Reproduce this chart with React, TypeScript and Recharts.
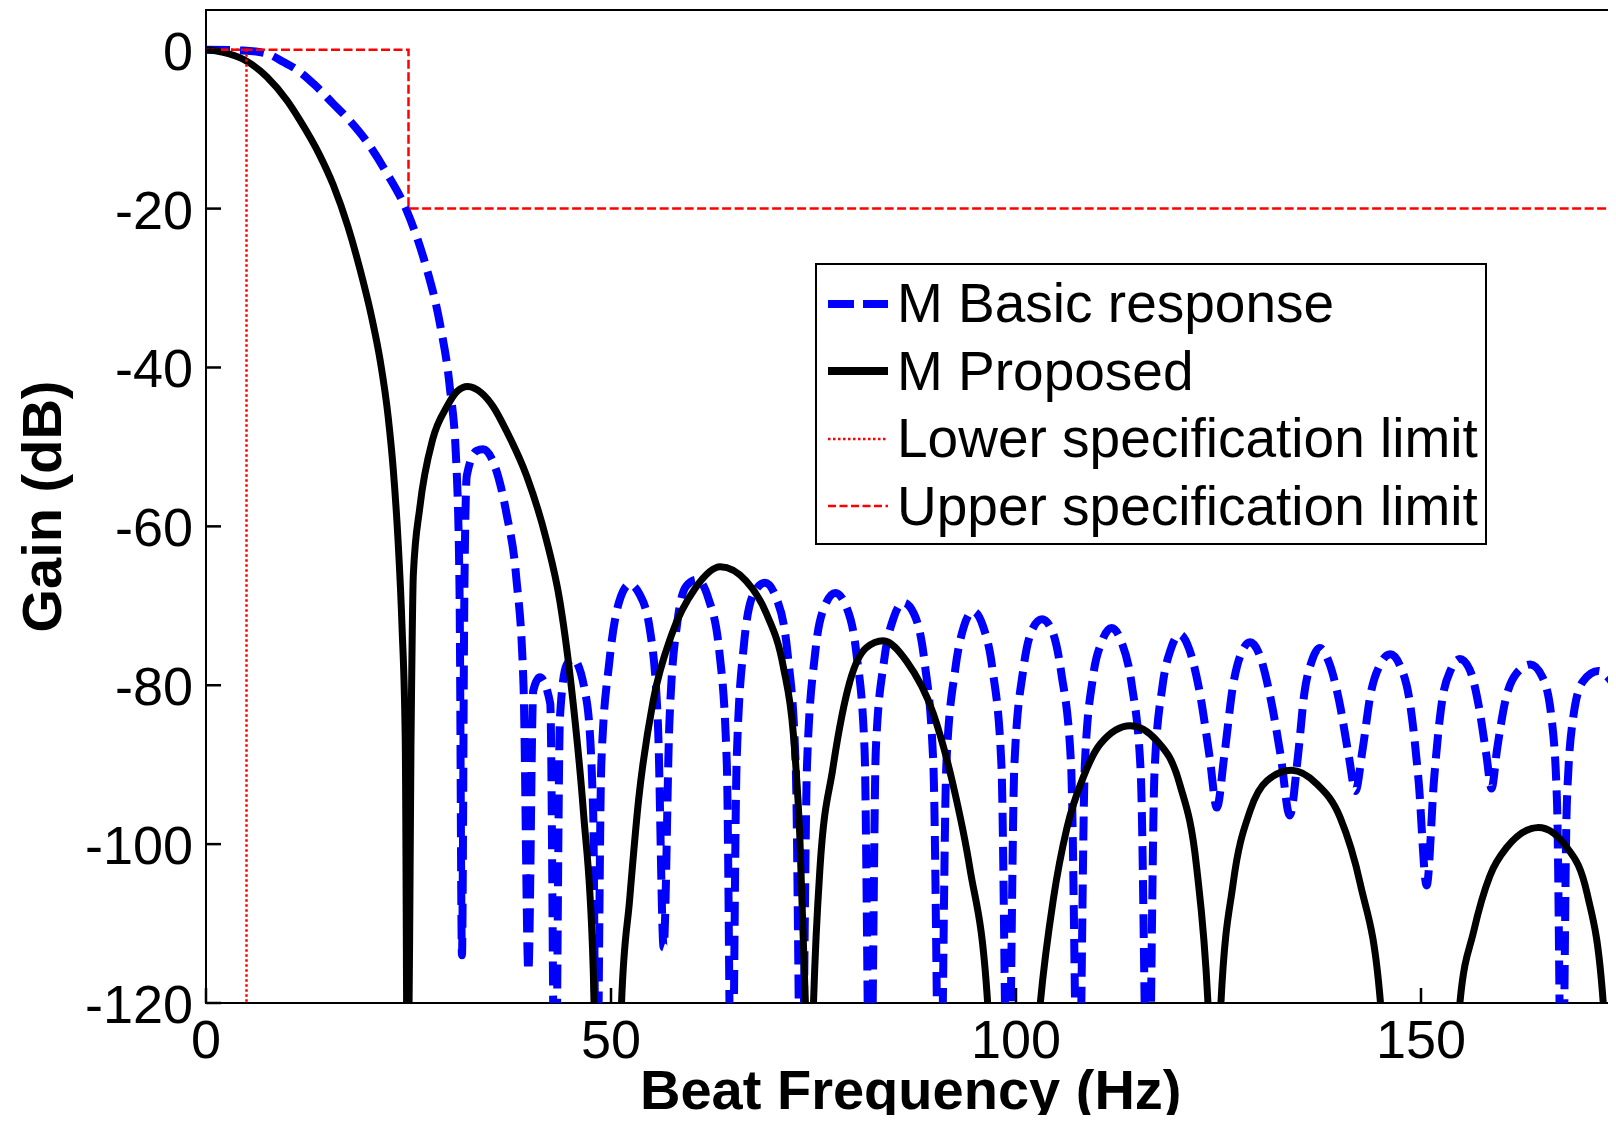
import { Label, Legend, Line, LineChart, ReferenceArea, XAxis, YAxis } from 'recharts';

// frequency (Hz) / gain (dB) pairs; -140 marks a null below the plot floor
const basicFreq = [
    0, 4.6, 7.5, 9.5, 11.6, 13.5, 15.7, 17.8, 19.8, 22.3, 24.8, 26, 27.2, 28.9, 30.1, 30.9, 31.3, 31.6, 31.9, 32.2,
    33.4, 34.2, 35.5, 37.1, 38.3, 39.2, 39.8, 40.4, 41.2, 42.5, 43.1, 43.7, 44.5, 45.3, 47, 47.8, 48.2, 48.8, 49.8,
    51, 52.3, 53.5, 54.8, 55.8, 56.5, 57.2, 58.2, 59.3, 60.6, 62, 63.4, 64.3, 64.9, 65.5, 66.4, 67.6, 69, 70.4, 71.8,
    72.8, 73.5, 74.2, 75.2, 76.4, 77.7, 79, 80.3, 81.3, 82, 82.7, 83.7, 84.9, 86.1, 87.4, 88.7, 89.8, 90.6, 91.4,
    92.5, 93.6, 94.7, 95.9, 97.1, 98.2, 99, 99.8, 100.9, 102, 103.2, 104.4, 105.6, 106.8, 107.7, 108.5, 109.5, 110.6,
    111.8, 113, 114.3, 115.4, 116.3, 117.1, 118.1, 119.1, 120.2, 121.4, 122.7, 123.9, 124.8, 125.7, 126.8, 127.8,
    128.9, 130, 131.3, 132.7, 133.8, 134.8, 135.6, 136.5, 137.5, 138.6, 139.9, 141.1, 141.9, 142.8, 143.8, 144.9,
    146.2, 147.4, 148.6, 149.7, 150.7, 151.6, 152.6, 153.7, 154.8, 156, 157.2, 158.1, 158.7, 159.4, 160.4, 161.8,
    163.5, 165, 166.1, 166.8, 167.4, 168, 168.8, 170, 171.9, 173.5, 175,
];
const basicGain = [
    0, -0.1, -0.5, -1.5, -2.8, -4.5, -6.8, -9, -11.5, -15.5, -20.3, -23.5, -27.4, -34.6, -42.5, -52, -68, -114, -68, -53.6,
    -50.5, -50.3, -52, -58.4, -66.4, -80, -116, -80.7, -79, -82.3, -140, -84, -77.5, -76.7, -82, -96, -140, -90, -77,
    -69.5, -67.3, -68.5, -73, -85, -113, -85, -72, -67.5, -66.7, -69, -76, -90, -140, -90, -75, -68.5, -67.1, -69, -76,
    -90, -140, -90, -76, -70, -68.4, -70, -76, -88, -140, -88, -77, -71.5, -69.6, -71, -77, -90, -140, -90,
    -78, -72.5, -70.7, -72.5, -78, -90, -140, -90, -78, -73, -71.7, -73, -78.5, -90, -140, -90, -79, -74.5,
    -72.8, -74.5, -80, -91, -140, -91, -80, -75.5, -73.6, -75.5, -81, -89, -95.4, -89, -80, -76,
    -74.6, -76, -81, -89, -96.4, -89, -81, -77, -75.3, -77, -82, -89, -93.3, -88, -81, -77.5,
    -76.1, -77.5, -82, -92, -105.2, -92, -82, -78, -76.7, -78, -83, -89, -93, -88, -82, -78.5,
    -77.4, -79, -84, -95, -140, -95, -84, -79.5, -78.2, -79.5, -82,
];

const proposedFreq = [
    0, 2, 4.6, 7.5, 10, 11.6, 14, 15.7, 17.5, 19, 20.5, 21.5, 22.5, 23.1, 23.7, 24.2, 24.6, 24.9, 25.3, 25.6, 26.4,
    28, 29.7, 31, 32.3, 34, 35.5, 37.1, 39.6, 42, 43.7, 45.3, 46.6, 47.8, 48.4,
    51, 51.3, 52.3, 53.4, 55.2, 57.5, 60.4, 63.5, 66.7, 69.2, 71.3, 72.5, 73.3, 74, 74.5,
    75, 75.8, 77.4, 79.5, 81.5, 83.6, 86.5, 89.8, 92.2, 94.3, 96.5, 97.5,
    101.5, 103, 104.6, 106.3, 108.3, 110.4, 114.1, 117.4, 120.2, 122.3, 123.7, 124.5,
    125.3, 126.8, 128.9, 131, 134, 137.1, 140, 142.5, 145, 146,
    153.5, 154.8, 156.5, 158.5, 160.6, 164.5, 168, 170.5, 172.5, 173.5, 175,
];
const proposedGain = [
    0, -0.3, -1.2, -3.4, -6.4, -8.9, -13.2, -17, -22.2, -27.6, -33.9, -39.1, -46.3, -52.6, -61.6, -72.6, -87, -140, -88, -66, -57.6,
    -49, -45, -43, -42.4, -43.2, -45, -48, -53.7, -61.6, -69.5, -82, -96, -115.6, -140,
    -140, -120, -107, -94.5, -82, -73.6, -67.8, -65.1, -66.9, -71, -77.8, -86, -98.7, -120, -140,
    -120, -103, -90.4, -79.5, -75.3, -74.4, -77, -83.6, -92.4, -103, -120, -140,
    -140, -120, -107, -97.9, -91.6, -87.4, -85.1, -87, -92.4, -102.9, -120, -140,
    -120, -105, -95.8, -92, -90.7, -92.4, -96.6, -105, -120, -140,
    -140, -120, -111, -104, -100.4, -97.9, -100.4, -106.2, -120, -140, -140,
];

const lowerSpecFreq = [0, 5, 5];
const lowerSpecGain = [0, 0, -120];
const upperSpecFreq = [0, 25, 25, 175];
const upperSpecGain = [0, 0, -20, -20];

const xDomain = [0, 175];
const yDomain = [-120, 5];
const xTicks = [0, 50, 100, 150];
const yTicks = [-120, -100, -80, -60, -40, -20, 0];

const toPoints = (f: number[], g: number[]) => f.map((v, i) => ({ f: v, g: g[i] }));

const basicData = toPoints(basicFreq, basicGain);
const proposedData = toPoints(proposedFreq, proposedGain);
const lowerData = toPoints(lowerSpecFreq, lowerSpecGain);
const upperData = toPoints(upperSpecFreq, upperSpecGain);

const FONT = '"Liberation Sans", Arial, Helvetica, sans-serif';
const TICK_LEN = 15;
const TICK_W = 2.5;

// ticks point into the plot, matlab style; drawn as filled rects
const LeftTick = (props: any) => {
    const x = Number(props.x);
    const y = Number(props.y);
    return (
        <g>
            <rect x={x} y={y - TICK_W / 2} width={TICK_LEN} height={TICK_W} fill="#000" />
            <text x={x - 13} y={y + 20} textAnchor="end" fontSize={54} fontFamily={FONT} fill="#000">
                {props.payload.value}
            </text>
        </g>
    );
};

const RightTick = (props: any) => {
    const x = Number(props.x);
    const y = Number(props.y);
    return <rect x={x - TICK_LEN} y={y - TICK_W / 2} width={TICK_LEN} height={TICK_W} fill="#000" />;
};

const BottomTick = (props: any) => {
    const x = Number(props.x);
    const y = Number(props.y);
    return (
        <g>
            <rect x={x - TICK_W / 2} y={y - TICK_LEN} width={TICK_W} height={TICK_LEN} fill="#000" />
            <text x={x} y={y + 55} textAnchor="middle" fontSize={54} fontFamily={FONT} fill="#000">
                {props.payload.value}
            </text>
        </g>
    );
};

const TopTick = (props: any) => {
    const x = Number(props.x);
    const y = Number(props.y);
    return <rect x={x - TICK_W / 2} y={y} width={TICK_W} height={TICK_LEN} fill="#000" />;
};

const legendRows = [
    { name: 'M Basic response', color: '#0000ff', width: 8, dash: '26 9' },
    { name: 'M Proposed', color: '#000000', width: 8, dash: undefined },
    { name: 'Lower specification limit', color: '#ff0000', width: 2.5, dash: '2.5 2.5' },
    { name: 'Upper specification limit', color: '#ff0000', width: 2.5, dash: '8 3.5' },
];

const renderLegend = () => (
    <div
        style={{
            width: 668,
            height: 273,
            border: '2px solid #000',
            background: '#fff',
            paddingTop: 5,
            boxSizing: 'content-box',
            fontFamily: FONT,
            fontSize: 55,
            lineHeight: '67.5px',
            color: '#000',
        }}
    >
        {legendRows.map((r) => (
            <div key={r.name} style={{ display: 'flex', alignItems: 'center', height: 67.5, whiteSpace: 'nowrap' }}>
                <svg width={80} height={20} style={{ flex: 'none' }}>
                    <line x1={11} y1={10} x2={71} y2={10} stroke={r.color} strokeWidth={r.width} strokeDasharray={r.dash} />
                </svg>
                <span>{r.name}</span>
            </div>
        ))}
    </div>
);

export default function App() {
    return (
        <div style={{ margin: -8, width: 1616, height: 1123, overflow: 'hidden', background: '#fff', fontFamily: FONT }}>
            <LineChart width={1640} height={1123} margin={{ top: 10, right: 16.5, bottom: 0, left: 0 }}>
                <XAxis
                    dataKey="f"
                    type="number"
                    domain={xDomain}
                    ticks={xTicks}
                    allowDataOverflow
                    height={120}
                    tickSize={0}
                    tickMargin={0}
                    tickLine={false}
                    axisLine={false}
                    tick={BottomTick}
                    interval={0}
                >
                    <Label
                        content={({ viewBox }: any) => (
                            <text
                                x={viewBox.x + viewBox.width / 2 - 4}
                                y={viewBox.y + 106}
                                textAnchor="middle"
                                fontSize={56}
                                fontWeight="bold"
                                fontFamily={FONT}
                                fill="#000"
                            >
                                Beat Frequency (Hz)
                            </text>
                        )}
                    />
                </XAxis>
                <XAxis
                    xAxisId="top"
                    orientation="top"
                    dataKey="f"
                    type="number"
                    domain={xDomain}
                    ticks={xTicks}
                    allowDataOverflow
                    height={0}
                    tickSize={0}
                    tickMargin={0}
                    tickLine={false}
                    axisLine={false}
                    tick={TopTick}
                    interval={0}
                />
                <YAxis
                    type="number"
                    domain={yDomain}
                    ticks={yTicks}
                    allowDataOverflow
                    width={206}
                    tickSize={0}
                    tickMargin={0}
                    tickLine={false}
                    axisLine={false}
                    tick={LeftTick}
                    interval={0}
                >
                    <Label
                        content={({ viewBox }: any) => {
                            const cx = viewBox.x + 61;
                            const cy = viewBox.y + viewBox.height / 2;
                            return (
                                <text
                                    x={cx}
                                    y={cy}
                                    transform={`rotate(-90 ${cx} ${cy})`}
                                    textAnchor="middle"
                                    fontSize={56}
                                    fontWeight="bold"
                                    fontFamily={FONT}
                                    fill="#000"
                                >
                                    Gain (dB)
                                </text>
                            );
                        }}
                    />
                </YAxis>
                <YAxis
                    yAxisId="right"
                    orientation="right"
                    type="number"
                    domain={yDomain}
                    ticks={yTicks}
                    allowDataOverflow
                    width={0}
                    tickSize={0}
                    tickMargin={0}
                    tickLine={false}
                    axisLine={false}
                    tick={RightTick}
                    interval={0}
                />
                <Line
                    data={basicData}
                    dataKey="g"
                    name="M Basic response"
                    type="monotone"
                    stroke="#0000ff"
                    strokeWidth={8}
                    strokeDasharray="24 10"
                    dot={false}
                    activeDot={false}
                    isAnimationActive={false}
                />
                <Line
                    data={proposedData}
                    dataKey="g"
                    name="M Proposed"
                    type="monotone"
                    stroke="#000000"
                    strokeWidth={7}
                    dot={false}
                    activeDot={false}
                    isAnimationActive={false}
                />
                <Line
                    data={lowerData}
                    dataKey="g"
                    name="Lower specification limit"
                    type="linear"
                    xAxisId="top"
                    yAxisId="right"
                    stroke="#ff0000"
                    strokeWidth={2.5}
                    strokeDasharray="2.5 2.5"
                    dot={false}
                    activeDot={false}
                    isAnimationActive={false}
                />
                <Line
                    data={upperData}
                    dataKey="g"
                    name="Upper specification limit"
                    type="linear"
                    xAxisId="top"
                    yAxisId="right"
                    stroke="#ff0000"
                    strokeWidth={2.5}
                    strokeDasharray="9 3.5"
                    dot={false}
                    activeDot={false}
                    isAnimationActive={false}
                />
                {/* axes box */}
                <ReferenceArea
                    x1={xDomain[0]}
                    x2={xDomain[1]}
                    y1={yDomain[0]}
                    y2={yDomain[1]}
                    fill="none"
                    fillOpacity={0}
                    stroke="#000"
                    strokeWidth={2}
                    strokeOpacity={1}
                    ifOverflow="visible"
                />
                <Legend
                    layout="vertical"
                    align="center"
                    verticalAlign="middle"
                    content={renderLegend}
                    wrapperStyle={{ position: 'absolute', left: 815, top: 263, width: 'auto', height: 'auto' }}
                />
            </LineChart>
        </div>
    );
}
